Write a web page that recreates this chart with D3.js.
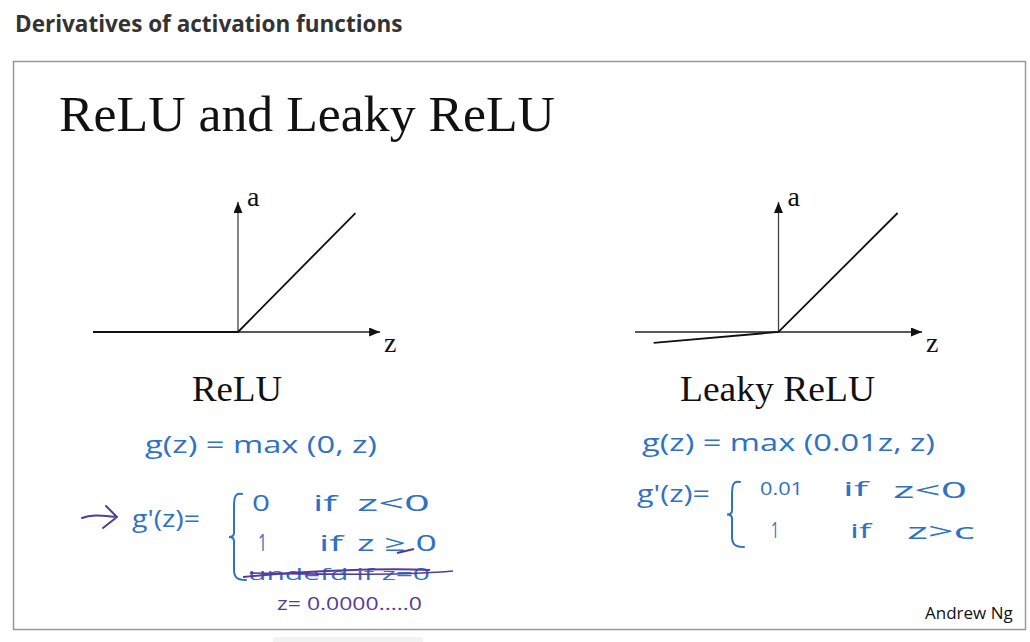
<!DOCTYPE html>
<html>
<head>
<meta charset="utf-8">
<script src="https://cdn.jsdelivr.net/npm/d3@7"></script>
<style>
  body { margin: 0; background: #fff; }
  svg { display: block; }
</style>
</head>
<body>
<svg id="svg" width="1030" height="642"></svg>
<script>
// function curves, in (z, a) units
const reluZ = [-1, 0, 0.81];
const reluA = [0, 0, 0.815];
const leakyZ = [-0.87, 0, 0.83];
const leakyA = [-0.075, 0, 0.815];

// axis extents
const axisZLeft = [-1, 0.98];
const axisZRight = [-1, 1.0];
const axisA = [0, 0.89];

const panelTitles = ['ReLU', 'Leaky ReLU'];
const fnLabels = ['g(z) = max (0, z)', 'g(z) =  max (0.01z, z)'];

const blue = '#2f72c4';
const purple = '#563a9a';

const svg = d3.select('#svg');

// page heading + slide frame
svg.append('text')
  .attr('x', 15).attr('y', 32)
  .attr('font-family', 'Open Sans')
  .attr('font-weight', 700)
  .attr('font-size', 22.5)
  .attr('fill', '#333')
  .text('Derivatives of activation functions');

svg.append('rect')
  .attr('x', 13.5).attr('y', 61.5)
  .attr('width', 1012).attr('height', 568)
  .attr('fill', '#fff')
  .attr('stroke', '#999')
  .attr('stroke-width', 1.5);

svg.append('rect')
  .attr('x', 273).attr('y', 637)
  .attr('width', 150).attr('height', 10)
  .attr('rx', 2)
  .attr('fill', '#f2f2f2');

svg.append('text')
  .attr('x', 59).attr('y', 131)
  .attr('font-family', 'Liberation Serif')
  .attr('font-size', 50)
  .attr('fill', '#111')
  .attr('textLength', 496)
  .attr('lengthAdjust', 'spacingAndGlyphs')
  .text('ReLU and Leaky ReLU');

svg.append('defs').append('marker')
  .attr('id', 'arrow')
  .attr('markerUnits', 'userSpaceOnUse')
  .attr('viewBox', '0 0 11 9')
  .attr('refX', 11).attr('refY', 4.5)
  .attr('markerWidth', 11).attr('markerHeight', 9)
  .attr('orient', 'auto')
  .append('path')
  .attr('d', 'M0,0 L11,4.5 L0,9 Z')
  .attr('fill', '#111');

const panels = [
  { range: [93, 383], zs: reluZ, as: reluA, axisZ: axisZLeft, title: panelTitles[0], tx: 192, tw: 90 },
  { range: [635, 922], zs: leakyZ, as: leakyA, axisZ: axisZRight, title: panelTitles[1], tx: 680, tw: 195 }
];

panels.forEach(p => {
  const x = d3.scaleLinear().domain([-1, 1]).range(p.range);
  const y = d3.scaleLinear().domain([0, 1]).range([332, 186]);
  const g = svg.append('g');

  g.append('line')
    .attr('x1', x(p.axisZ[0])).attr('x2', x(p.axisZ[1]))
    .attr('y1', y(0)).attr('y2', y(0))
    .attr('stroke', '#222').attr('stroke-width', 1.3)
    .attr('marker-end', 'url(#arrow)');

  g.append('line')
    .attr('x1', x(0)).attr('x2', x(0))
    .attr('y1', y(axisA[0])).attr('y2', y(axisA[1]))
    .attr('stroke', '#444').attr('stroke-width', 1.3)
    .attr('marker-end', 'url(#arrow)');

  const pts = p.zs.map((z, i) => [z, p.as[i]]);
  g.append('path')
    .datum(pts)
    .attr('d', d3.line().x(d => x(d[0])).y(d => y(d[1])))
    .attr('fill', 'none')
    .attr('stroke', '#111')
    .attr('stroke-width', 1.8);

  g.append('text')
    .attr('x', x(0) + 9).attr('y', y(axisA[1]) + 4)
    .attr('font-family', 'Liberation Serif')
    .attr('font-size', 28)
    .attr('fill', '#111')
    .text('a');

  g.append('text')
    .attr('x', x(p.axisZ[1]) + 4).attr('y', y(0) + 20)
    .attr('font-family', 'Liberation Serif')
    .attr('font-size', 28)
    .attr('fill', '#111')
    .text('z');

  g.append('text')
    .attr('x', p.tx).attr('y', 401)
    .attr('font-family', 'Liberation Serif')
    .attr('font-size', 35)
    .attr('fill', '#111')
    .attr('textLength', p.tw)
    .attr('lengthAdjust', 'spacingAndGlyphs')
    .text(p.title);
});

// handwritten notes
function hand(x, y, s, size, w, color) {
  const t = svg.append('text')
    .attr('x', x).attr('y', y)
    .attr('font-family', 'Open Sans')
    .attr('font-weight', 400)
    .attr('font-size', size)
    .attr('fill', color || blue)
    .text(s);
  if (w) t.attr('textLength', w).attr('lengthAdjust', 'spacingAndGlyphs');
  return t;
}

function brace(x, y0, y1) {
  const m = (y0 + y1) / 2;
  svg.append('path')
    .attr('d', `M${x + 8},${y0} C${x},${y0 - 2} ${x},${y0 + 6} ${x},${y0 + 14} L${x},${m - 4} C${x},${m} ${x - 4},${m} ${x - 5},${m} C${x - 4},${m} ${x},${m} ${x},${m + 4} L${x},${y1 - 10} C${x},${y1 - 2} ${x + 4},${y1} ${x + 12},${y1}`)
    .attr('fill', 'none')
    .attr('stroke', blue)
    .attr('stroke-width', 2)
    .attr('stroke-linecap', 'round');
}

// left side
svg.append('path')
  .attr('d', 'M82,518 C92,514 104,516 117,517 M106,506 L117,517 L103,528')
  .attr('fill', 'none').attr('stroke', purple).attr('stroke-width', 2)
  .attr('stroke-linecap', 'round').attr('stroke-linejoin', 'round');
hand(145, 453, fnLabels[0], 24, 232);
hand(132, 527, "g'(z)=", 24, 68);
brace(234, 494, 580);
hand(252, 511, '0', 22, 18);
hand(313, 511, 'if', 22, 24);
hand(357, 511, 'z<0', 22, 73);
hand(258, 551, '1', 24, 9);
hand(319, 551, 'if', 22, 24);
hand(357, 551, 'z ≥ 0', 22, 80);
svg.append('line')
  .attr('x1', 397).attr('x2', 414).attr('y1', 553).attr('y2', 549)
  .attr('stroke', purple).attr('stroke-width', 2);
hand(248, 580, 'undefd    if   z=0', 16, 182);
svg.append('path')
  .attr('d', 'M243,577 C300,571 380,568 430,570')
  .attr('fill', 'none').attr('stroke', purple).attr('stroke-width', 2);
svg.append('path')
  .attr('d', 'M250,573 C320,574 400,576 453,571')
  .attr('fill', 'none').attr('stroke', purple).attr('stroke-width', 1.6);
hand(277, 610, 'z= 0.0000.....0', 18, 145, purple);

// right side
hand(642, 451, fnLabels[1], 23, 293);
hand(637, 502, "g'(z)=", 24, 73);
brace(732, 482, 547);
hand(760, 495, '0.01', 18, 43);
hand(843, 496, 'if', 20, 25);
hand(893, 498, 'z<0', 22, 74);
hand(771, 538, '1', 22, 8);
hand(850, 538, 'if', 20, 21);
hand(907, 539, 'z>c', 22, 68);

svg.append('text')
  .attr('x', 925).attr('y', 619)
  .attr('font-family', 'Open Sans')
  .attr('font-size', 17)
  .attr('fill', '#111')
  .text('Andrew Ng');
</script>
</body>
</html>
